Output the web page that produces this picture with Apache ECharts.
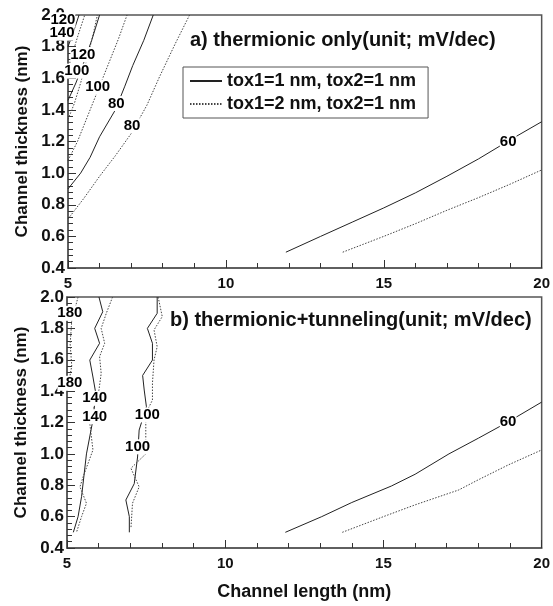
<!DOCTYPE html>
<html>
<head>
<meta charset="utf-8">
<script src="https://cdn.jsdelivr.net/npm/echarts@6/dist/echarts.min.js"></script>
<style>
html, body { margin: 0; padding: 0; background: #fff; }
#chart { width: 553px; height: 606px; }
</style>
</head>
<body>
<div id="chart"></div>
<script>
var legendNames = ['tox1=1 nm, tox2=1 nm', 'tox1=2 nm, tox2=1 nm'];

// a) thermionic only : [channel length, channel thickness]
var aSolid60 = [[11.9,0.5],[13.0,0.6],[14.0,0.69],[15.0,0.78],[16.0,0.875],[17.0,0.98],[18.0,1.09],[19.0,1.21],[20.0,1.325]];
var aDot60 = [[13.7,0.5],[15.0,0.6],[16.0,0.68],[17.0,0.765],[18.0,0.845],[19.0,0.93],[20.0,1.02]];
var aSolid80 = [[5.0,0.9],[5.4,1.0],[5.7,1.1],[6.0,1.23],[6.5,1.4],[6.8,1.55],[7.05,1.68],[7.4,1.84],[7.7,2.0]];
var aDot80 = [[5.0,0.71],[5.5,0.84],[6.0,0.98],[6.5,1.11],[7.0,1.25],[7.5,1.43],[7.9,1.61],[8.4,1.82],[8.85,2.0]];
var aSolid100 = [[5.0,1.46],[5.25,1.57],[5.5,1.7],[5.75,1.84],[6.0,2.0]];
var aDot100 = [[5.0,1.08],[5.3,1.2],[5.7,1.4],[6.0,1.55],[6.3,1.7],[6.6,1.85],[6.87,2.0]];
var aSolid120 = [[5.0,1.8],[5.15,1.88],[5.35,2.0]];
var aDot120 = [[5.0,1.34],[5.2,1.44],[5.4,1.57],[5.6,1.72],[5.8,1.88],[5.93,2.0]];
var aDot140 = [[5.0,1.66],[5.15,1.76],[5.3,1.86],[5.53,2.0]];
var aLabels = [[4.84,1.97,'120'],[4.81,1.885,'140'],[5.47,1.75,'120'],[5.28,1.645,'100'],[5.94,1.545,'100'],[6.53,1.44,'80'],[7.03,1.3,'80'],[18.94,1.2,'60']];

// b) thermionic+tunneling
var bSolid60 = [[11.9,0.5],[13.05,0.6],[14.0,0.69],[15.25,0.795],[16.0,0.87],[17.07,1.0],[18.0,1.1],[18.95,1.205],[20.0,1.33]];
var bDot60 = [[13.7,0.5],[15.0,0.6],[16.0,0.675],[17.38,0.77],[18.0,0.835],[18.95,0.93],[20.0,1.025]];
var bSolid100 = [[7.85,2.0],[7.85,1.896],[7.54,1.8],[7.7,1.705],[7.7,1.598],[7.39,1.5],[7.44,1.407],[7.51,1.3],[7.28,1.152],[7.23,0.98],[7.125,0.81],[6.86,0.706],[6.97,0.6],[6.97,0.5]];
var bDot100 = [[7.88,2.0],[8.01,1.875],[7.75,1.79],[7.85,1.683],[7.75,1.598],[7.7,1.45],[7.7,1.343],[7.49,1.258],[7.49,1.0],[7.02,0.908],[7.28,0.79],[7.07,0.685],[7.02,0.525]];
var bSolid140 = [[6.01,2.0],[6.13,1.906],[5.875,1.8],[6.03,1.705],[5.72,1.598],[5.82,1.49],[5.91,1.386],[5.82,1.216],[5.615,1.0],[5.46,0.727],[5.35,0.6],[5.2,0.5]];
var bDot140 = [[6.44,2.0],[6.24,1.895],[6.08,1.8],[6.19,1.705],[6.03,1.62],[6.08,1.513],[6.01,1.407],[5.72,1.195],[5.82,1.025],[5.51,0.854],[5.41,0.79],[5.615,0.685],[5.46,0.6],[5.3,0.5]];
var bDot180 = [[5.35,2.0],[5.15,1.85],[5.1,1.7],[5.15,1.56],[5.05,1.45],[5.0,1.4]];
var bLabels = [[5.09,1.896,'180'],[5.09,1.45,'180'],[5.875,1.354,'140'],[5.875,1.237,'140'],[7.54,1.248,'100'],[7.23,1.045,'100'],[18.94,1.205,'60']];

var font = '"Liberation Sans", Arial, sans-serif';
var myChart = echarts.init(document.getElementById('chart'));

function contour(data, dotted, gi) {
    return {
        name: dotted ? legendNames[1] : legendNames[0],
        type: 'line',
        xAxisIndex: gi,
        yAxisIndex: gi,
        data: data,
        symbol: 'none',
        smooth: false,
        animation: false,
        lineStyle: dotted
            ? { color: '#444', width: 1, type: [1.5, 1.5] }
            : { color: '#222', width: 1 },
        itemStyle: { color: dotted ? '#444' : '#222' }
    };
}

function labels(data, gi) {
    return {
        type: 'scatter',
        xAxisIndex: gi,
        yAxisIndex: gi,
        data: data,
        symbolSize: 0,
        clip: false,
        z: 5,
        silent: true,
        itemStyle: { opacity: 1, color: '#000' },
        label: {
            show: true,
            position: 'inside',
            formatter: function (p) { return p.data[2]; },
            color: '#000',
            opacity: 1,
            fontFamily: font,
            fontWeight: 'bold',
            fontSize: 15,
            backgroundColor: '#fff',
            padding: [0, 0]
        }
    };
}

function xAx(gi, showName) {
    return {
        type: 'value',
        gridIndex: gi,
        min: 5, max: 20, interval: 5,
        name: showName ? 'Channel length (nm)' : '',
        nameLocation: 'middle',
        nameGap: 35,
        nameTextStyle: { fontFamily: font, fontWeight: 'bold', fontSize: 18, color: '#111' },
        axisLine: { show: true, lineStyle: { color: '#555', width: 1.5 } },
        axisTick: { inside: true, length: 8, lineStyle: { color: '#333' } },
        minorTick: { show: true, splitNumber: 5, length: 5, lineStyle: { color: '#333' } },
        splitLine: { show: false },
        axisLabel: { margin: 8, fontFamily: font, fontWeight: 'bold', fontSize: 15, color: '#111' }
    };
}

function yAx(gi) {
    return {
        type: 'value',
        gridIndex: gi,
        min: 0.4, max: 2.0, interval: 0.2,
        name: 'Channel thickness (nm)',
        nameLocation: 'middle',
        nameGap: 35,
        nameRotate: 90,
        nameTextStyle: { fontFamily: font, fontWeight: 'bold', fontSize: 17, color: '#111' },
        axisLine: { show: true, lineStyle: { color: '#555', width: 1.5 } },
        axisTick: { inside: true, length: 8, lineStyle: { color: '#333' } },
        minorTick: { show: true, splitNumber: 5, length: 5, lineStyle: { color: '#333' } },
        splitLine: { show: false },
        axisLabel: {
            margin: 3, fontFamily: font, fontWeight: 'bold', fontSize: 17, color: '#111',
            formatter: function (v) { return v.toFixed(1); }
        }
    };
}

var option = {
    backgroundColor: '#fff',
    animation: false,
    title: [
        {
            text: 'a) thermionic only(unit; mV/dec)',
            left: 190, top: 30, padding: 0,
            textStyle: { fontFamily: font, fontWeight: 'bold', fontSize: 20, color: '#111' }
        },
        {
            text: 'b) thermionic+tunneling(unit; mV/dec)',
            left: 170, top: 310, padding: 0,
            textStyle: { fontFamily: font, fontWeight: 'bold', fontSize: 20, color: '#111' }
        }
    ],
    legend: {
        data: legendNames,
        left: 183, top: 67,
        orient: 'vertical',
        itemWidth: 32, itemHeight: 10, itemGap: 5,
        padding: [5, 12, 5, 6],
        borderColor: '#555', borderWidth: 1,
        selectedMode: false,
        itemStyle: { opacity: 0 },
        textStyle: { fontFamily: font, fontWeight: 'bold', fontSize: 18, color: '#111' }
    },
    grid: [
        { left: 68, top: 15, width: 481, height: 253, show: true, borderColor: '#555', borderWidth: 1.5, backgroundColor: 'transparent' },
        { left: 67, top: 297, width: 480, height: 251, show: true, borderColor: '#555', borderWidth: 1.5, backgroundColor: 'transparent' }
    ],
    xAxis: [xAx(0, false), xAx(1, true)],
    yAxis: [yAx(0), yAx(1)],
    series: [
        contour(aSolid60, false, 0), contour(aDot60, true, 0),
        contour(aSolid80, false, 0), contour(aDot80, true, 0),
        contour(aSolid100, false, 0), contour(aDot100, true, 0),
        contour(aSolid120, false, 0), contour(aDot120, true, 0),
        contour(aDot140, true, 0),
        labels(aLabels, 0),
        contour(bSolid60, false, 1), contour(bDot60, true, 1),
        contour(bSolid100, false, 1), contour(bDot100, true, 1),
        contour(bSolid140, false, 1), contour(bDot140, true, 1),
        contour(bDot180, true, 1),
        labels(bLabels, 1)
    ]
};
myChart.setOption(option);
</script>
</body>
</html>
